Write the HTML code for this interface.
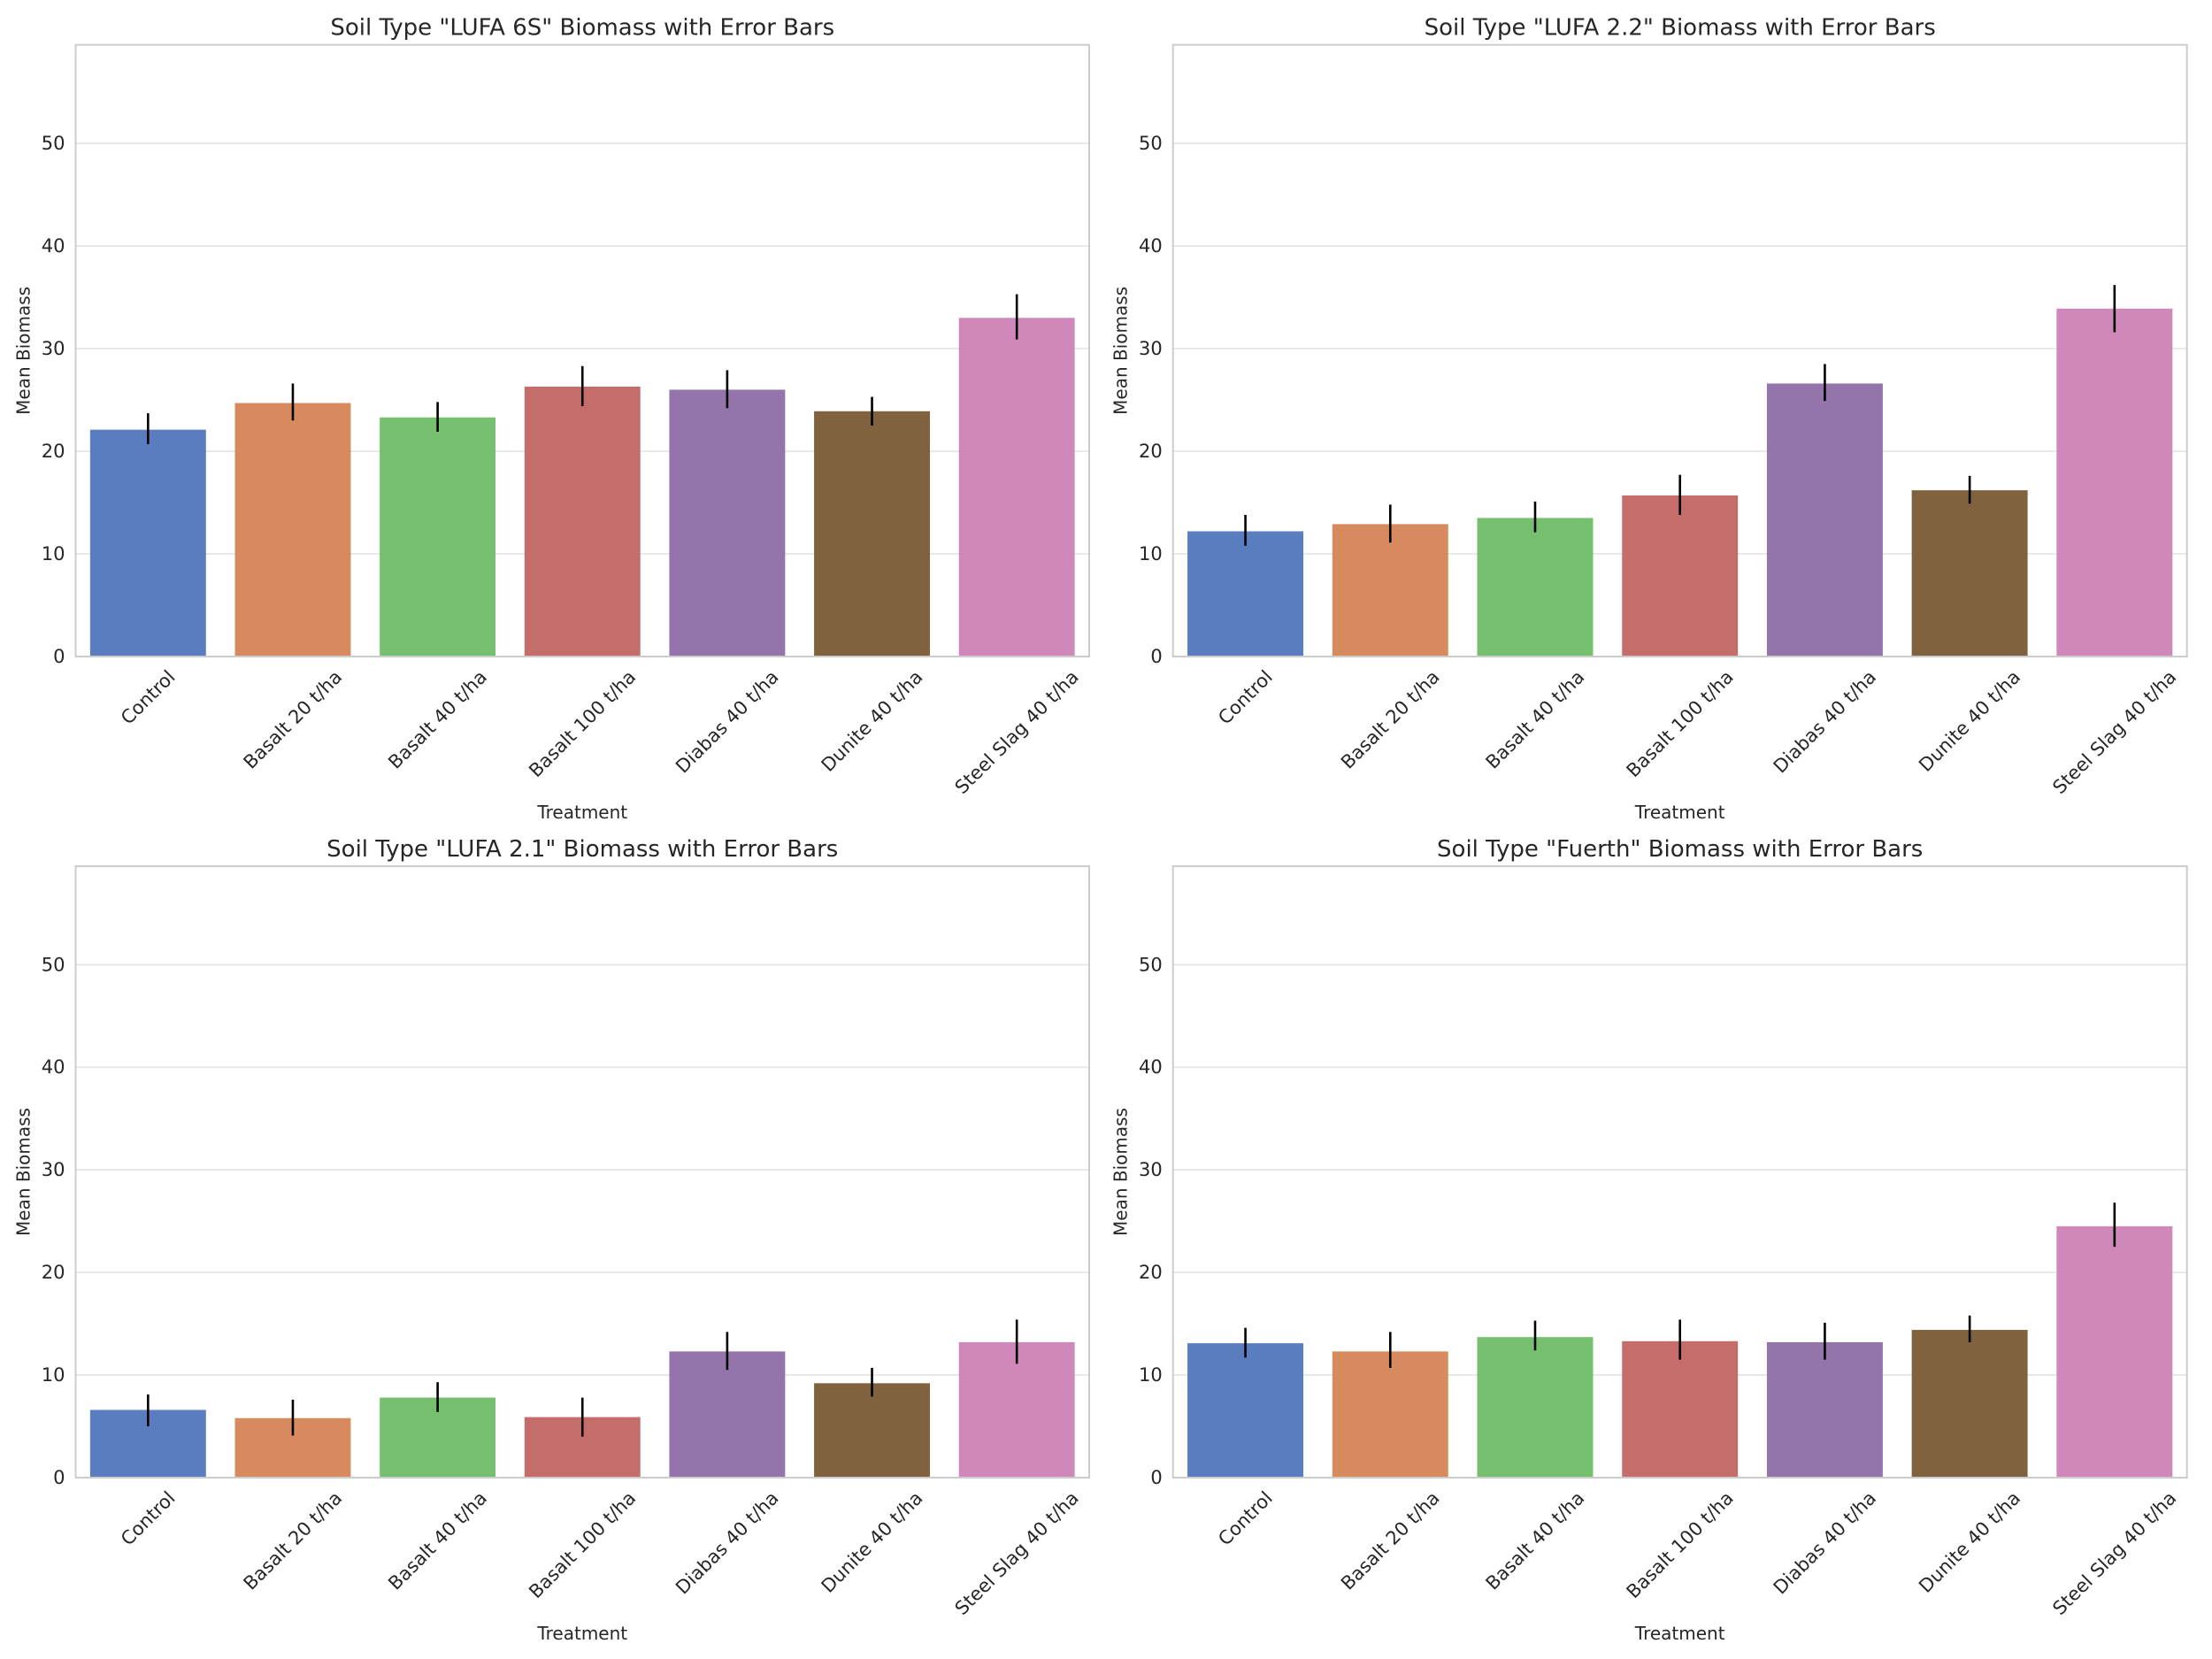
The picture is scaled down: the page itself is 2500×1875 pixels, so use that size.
<!DOCTYPE html>
<html><head><meta charset="utf-8">
<style>
html,body{margin:0;padding:0;background:#fff;}
svg{display:block;font-family:"DejaVu Sans","Liberation Sans",sans-serif;}
</style></head>
<body>
<svg id="fig" width="2500" height="1875" viewBox="0 0 2500 1875" xmlns="http://www.w3.org/2000/svg"></svg>
<script>
const categories = ["Control","Basalt 20 t/ha","Basalt 40 t/ha","Basalt 100 t/ha","Diabas 40 t/ha","Dunite 40 t/ha","Steel Slag 40 t/ha"];
const soilNames = ["LUFA 6S","LUFA 2.2","LUFA 2.1","Fuerth"];
const meansLUFA6S = [22.1,24.7,23.3,26.3,26.0,23.9,33.0];
const lowLUFA6S   = [20.7,23.0,21.9,24.4,24.2,22.5,30.9];
const highLUFA6S  = [23.7,26.6,24.8,28.3,27.9,25.3,35.3];
const meansLUFA22 = [12.2,12.9,13.5,15.7,26.6,16.2,33.9];
const lowLUFA22   = [10.8,11.1,12.1,13.8,24.9,14.9,31.6];
const highLUFA22  = [13.8,14.8,15.1,17.7,28.5,17.6,36.2];
const meansLUFA21 = [6.6,5.8,7.8,5.9,12.3,9.2,13.2];
const lowLUFA21   = [5.0,4.1,6.4,4.0,10.5,7.9,11.1];
const highLUFA21  = [8.1,7.6,9.3,7.8,14.2,10.7,15.4];
const meansFuerth = [13.1,12.3,13.7,13.3,13.2,14.4,24.5];
const lowFuerth   = [11.7,10.7,12.4,11.5,11.5,13.2,22.5];
const highFuerth  = [14.6,14.2,15.3,15.4,15.1,15.8,26.8];
const yTicks = [0,10,20,30,40,50];
const yMax = 59.6;

const colors = ["#5a7dc0","#d88a5f","#75bf6f","#c56d6a","#9475ab","#80623f","#d088bb"];
const NS="http://www.w3.org/2000/svg";
const fig=document.getElementById('fig');
function mk(tag,attrs,parent){const e=document.createElementNS(NS,tag);for(const k in attrs)e.setAttribute(k,attrs[k]);(parent||fig).appendChild(e);return e;}

const panels=[
 {name:soilNames[0],m:meansLUFA6S,lo:lowLUFA6S,hi:highLUFA6S,x0:85.5,x1:1231,top:50.7,bot:742},
 {name:soilNames[1],m:meansLUFA22,lo:lowLUFA22,hi:highLUFA22,x0:1325.7,x1:2471.7,top:50.7,bot:742},
 {name:soilNames[2],m:meansLUFA21,lo:lowLUFA21,hi:highLUFA21,x0:85.5,x1:1231,top:979,bot:1670},
 {name:soilNames[3],m:meansFuerth,lo:lowFuerth,hi:highFuerth,x0:1325.7,x1:2471.7,top:979,bot:1670}
];

panels.forEach((p,pi)=>{
  const g=mk('g',{});
  
  
  const yS=v=>p.bot-(v/yMax)*(p.bot-p.top);
  const step=(p.x1-p.x0)/categories.length;
  const xC=i=>p.x0+step*(i+0.5);
  yTicks.forEach(t=>{
    if(t>0){const gl=mk('line',{x1:p.x0,x2:p.x1,y1:yS(t),y2:yS(t),stroke:'#e6e6e6','stroke-width':1.8},g);
      
      }
    const tl=mk('text',{x:p.x0-12,y:yS(t),'text-anchor':'end','dominant-baseline':'central','font-size':21,fill:'#262626'},g);
    tl.textContent=t;
    
    
  });
  categories.forEach((c,i)=>{
    const w=step*0.8;
    const b=mk('rect',{x:xC(i)-w/2,y:yS(p.m[i]),width:w,height:p.bot-yS(p.m[i]),fill:colors[i]},g);
    
    
    const e=mk('line',{x1:xC(i),x2:xC(i),y1:yS(p.lo[i]),y2:yS(p.hi[i]),stroke:'#000','stroke-width':2.6},g);
    
    
    const t=mk('text',{'font-size':21,fill:'#262626','text-anchor':'middle','dominant-baseline':'central'},g);
    t.textContent=c;
    
    
    const L=t.getComputedTextLength();
    const h=(L+21)*0.7071;
    const cy=p.bot+12+h/2;
    t.setAttribute('x',xC(i));t.setAttribute('y',cy);
    t.setAttribute('transform','rotate(-45 '+xC(i)+' '+cy+')');
  });
  const sp=mk('rect',{x:p.x0,y:p.top,width:p.x1-p.x0,height:p.bot-p.top,fill:'none',stroke:'#cccccc','stroke-width':2},g);
  
  
  const ti=mk('text',{x:(p.x0+p.x1)/2,y:p.top-11,'text-anchor':'middle','font-size':26,fill:'#262626'},g);
  ti.textContent='Soil Type "'+p.name+'" Biomass with Error Bars';
  
  
  const xl=mk('text',{x:(p.x0+p.x1)/2,y:p.bot+183,'text-anchor':'middle','font-size':20,fill:'#262626'},g);
  xl.textContent='Treatment';
  
  
  const yc=(p.top+p.bot)/2, yx=p.x0-59;
  const yl=mk('text',{x:yx,y:yc,'text-anchor':'middle','dominant-baseline':'central','font-size':20,fill:'#262626',transform:'rotate(-90 '+yx+' '+yc+')'},g);
  yl.textContent='Mean Biomass';
  
  
});
</script>
</body></html>
